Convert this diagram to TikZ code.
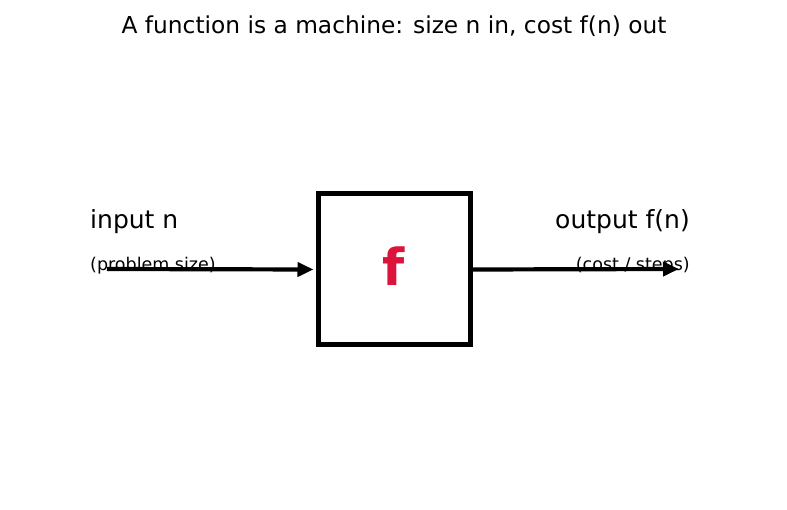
\documentclass[tikz,border=0pt]{standalone}
\usepackage{fontspec}
\setmainfont{DejaVu Sans}
\usetikzlibrary{arrows.meta,positioning}
\definecolor{cFun}{HTML}{DC143C}
\tikzset{
  machine/.style={draw=black,line width=5pt,minimum width=152pt,minimum height=151pt,inner sep=0pt,fill=white},
  ttl/.style={font=\fontsize{23.3}{28}\selectfont,anchor=base},
  big/.style={font=\fontsize{25}{30}\selectfont,anchor=base,inner sep=0pt},
  sml/.style={font=\fontsize{17.5}{21}\selectfont,anchor=base,inner sep=0pt},
  arr/.style={-{Triangle[length=16pt,width=14pt]},line width=4.2pt,black},
}
\begin{document}
\begin{tikzpicture}[x=1pt,y=-1pt]
  \useasboundingbox (0,0) rectangle (787,510);
  \node[ttl] (title) at (394,34) {A function is a machine: size n in, cost f(n) out};
  \node[machine] (fbox) at (394,269.5) {};
  \node[anchor=base,inner sep=0pt,text=cFun,font=\fontsize{51}{60}\selectfont\bfseries] (f) at (394,286) {f};
  % left side
  \node[big,anchor=base west] (inp) at (90,228.5) {input n};
  \node[sml,anchor=base west] (insz) at (90,271) {(problem size)};
  \coordinate (src) at (107,269);
  \draw[arr] (src) -- ([xshift=-2pt]fbox.west);
  % right side
  \node[big,anchor=base east] (outp) at (690,228.5) {output f(n)};
  \node[sml,anchor=base east] (outc) at (690,271) {(cost / steps)};
  \coordinate (dst) at (679,269);
  \draw[arr] (fbox.east) -- (dst);
\end{tikzpicture}
\end{document}
